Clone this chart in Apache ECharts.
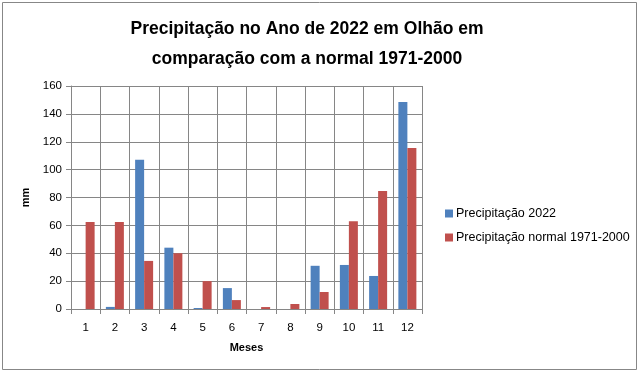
<!DOCTYPE html>
<html><head><meta charset="utf-8">
<script src="https://cdn.jsdelivr.net/npm/echarts@6/dist/echarts.min.js"></script>
<style>html,body{margin:0;padding:0;background:#fff}#c{width:640px;height:373px}</style>
</head><body><div id="c"></div>
<script>
const categories = ['1','2','3','4','5','6','7','8','9','10','11','12'];
const precip2022 = [0, 1.5, 107, 44, 0.7, 15, 0, 0, 31, 31.6, 23.7, 148.5];
const precipNormal = [62.5, 62.5, 34.5, 40, 20, 6.4, 1.4, 3.6, 12.2, 63, 84.6, 115.5];
const yTicks = [0, 20, 40, 60, 80, 100, 120, 140, 160];
const seriesNames = ['Precipitação 2022', 'Precipitação normal 1971-2000'];
const titleLines = ['Precipitação no Ano de 2022 em Olhão em', 'comparação com a normal 1971-2000'];

const font = 'Liberation Sans';
const chart = echarts.init(document.getElementById('c'), null, {renderer: 'canvas'});
chart.setOption({
  animation: false,
  textStyle: {fontFamily: font},
  graphic: [{type: 'rect', shape: {x: 2.5, y: 2.5, width: 634, height: 367}, style: {fill: 'none', stroke: '#878787', lineWidth: 1}, silent: true}],
  title: {
    text: titleLines.join('\n'), left: 302, top: 9, textAlign: 'center',
    textStyle: {fontFamily: font, fontSize: 17.5, fontWeight: 'bold', color: '#000', lineHeight: 30}
  },
  legend: {
    orient: 'vertical', left: 440, top: 202, itemWidth: 8, itemHeight: 8, itemGap: 11,
    icon: 'rect', textStyle: {fontFamily: font, fontSize: 12.5, color: '#000', padding: [0,0,0,-2]},
    data: seriesNames
  },
  grid: {left: 71, right: 218, top: 86, bottom: 64},
  xAxis: {
    type: 'category', data: categories, name: 'Meses', nameLocation: 'middle', nameGap: 33,
    nameTextStyle: {fontFamily: font, fontSize: 11, fontWeight: 'bold', color: '#000'},
    axisLine: {lineStyle: {color: '#868686'}},
    axisTick: {show: true, length: 5, lineStyle: {color: '#868686'}},
    axisLabel: {color: '#000', fontSize: 11.5, margin: 13},
    splitLine: {show: true, lineStyle: {color: '#868686', width: 1}}
  },
  yAxis: {
    type: 'value', min: 0, max: 160, interval: 20, name: 'mm', nameLocation: 'middle', nameGap: 38,
    nameRotate: 90,
    nameTextStyle: {fontFamily: font, fontSize: 11, fontWeight: 'bold', color: '#000'},
    axisLine: {show: true, lineStyle: {color: '#868686'}},
    axisTick: {show: true, length: 5, lineStyle: {color: '#868686'}},
    axisLabel: {color: '#000', fontSize: 11.5, margin: 9, formatter: v => yTicks.includes(v) ? String(v) : ''},
    splitLine: {show: true, lineStyle: {color: '#868686', width: 1}}
  },
  series: [
    {name: seriesNames[0], type: 'bar', data: precip2022, barWidth: 9, barGap: '0%', itemStyle: {color: '#4F81BD'}},
    {name: seriesNames[1], type: 'bar', data: precipNormal, barWidth: 9, barGap: '0%', itemStyle: {color: '#C0504D'}}
  ]
});
</script></body></html>
